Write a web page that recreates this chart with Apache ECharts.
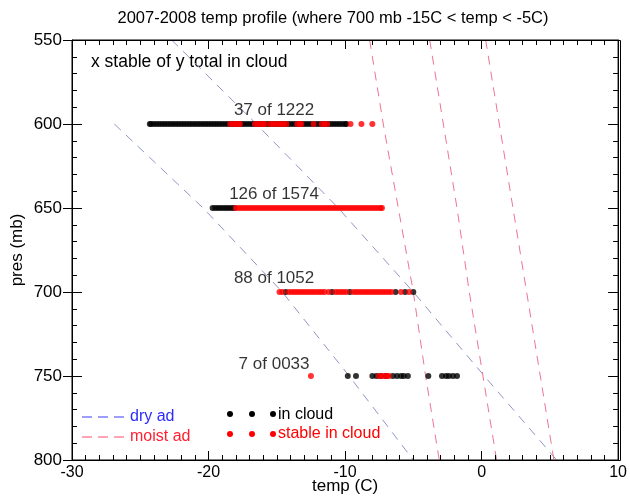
<!DOCTYPE html>
<html><head><meta charset="utf-8">
<script src="https://cdn.jsdelivr.net/npm/echarts@6/dist/echarts.min.js"></script>
<style>html,body{margin:0;padding:0;background:#fff;overflow:hidden}#chart{width:630px;height:502px}</style>
</head><body><div id="chart"></div>
<script>
// ---- data (temp in C, pressure in mb) ----
const levels = [600, 650, 700, 750];
const inCloud600 = [-24.3,-24.2,-24.0,-23.8,-23.6,-23.4,-23.2,-23.0,-22.8,-22.6,-22.4,-22.2,-22.0,-21.8,-21.6,-21.4,-21.2,-21.0,-20.8,-20.6,-20.4,-20.2,-20.0,-19.8,-19.6,-19.4,-19.2,-19.0,-18.8,-18.6,-18.4,-18.2,-18.0,-17.8,-17.6,-17.4,-17.2,-17.0,-16.8,-16.6,-16.4,-16.2,-16.0,-15.8,-15.6,-15.4,-15.2,-15.0,-14.8,-14.6,-14.4,-14.2,-14.0,-13.8,-13.6,-13.4,-13.2,-13.0,-12.8,-12.6,-12.4,-12.2,-12.0,-11.8,-11.6,-11.4,-11.2,-11.0,-10.8,-10.6,-10.4,-10.2,-10.0,-9.9];
const stable600 = [-18.4,-18.2,-18.0,-17.8,-17.7,-16.6,-16.4,-16.2,-16.0,-15.9,-15.5,-15.3,-15.1,-14.9,-14.7,-14.5,-14.3,-13.5,-13.3,-13.2,-12.3,-11.7,-11.5,-11.3,-9.6,-8.8,-8.0];
const inCloud650 = [-19.7,-19.5,-19.3,-19.1,-18.9,-18.7,-18.5,-18.3,-18.1];
const stable650 = [-18.0,-17.8,-17.6,-17.4,-17.2,-17.0,-16.8,-16.6,-16.4,-16.2,-16.0,-15.8,-15.6,-15.4,-15.2,-15.0,-14.8,-14.6,-14.4,-14.2,-14.0,-13.8,-13.6,-13.4,-13.2,-13.0,-12.8,-12.6,-12.4,-12.2,-12.0,-11.8,-11.6,-11.4,-11.2,-11.0,-10.8,-10.6,-10.4,-10.2,-10.0,-9.8,-9.6,-9.4,-9.2,-9.0,-8.8,-8.6,-8.4,-8.2,-8.0,-7.8,-7.6,-7.4,-7.3];
const inCloud700 = [-14.35,-10.95,-9.65,-6.3,-5.6,-5.0];
const stable700 = [-14.8,-14.6,-14.1,-13.9,-13.7,-13.5,-13.3,-13.1,-12.9,-12.7,-12.5,-12.3,-12.1,-11.9,-11.7,-11.5,-11.2,-10.7,-10.5,-10.3,-10.1,-9.9,-9.4,-9.2,-9.0,-8.8,-8.6,-8.4,-8.2,-8.0,-7.8,-7.6,-7.4,-7.2,-7.0,-6.8,-6.6,-5.9,-5.3];
const inCloud750 = [-9.8,-9.2,-8.0,-7.7,-7.4,-7.0,-6.5,-6.2,-5.9,-5.7,-5.4,-3.9,-2.9,-2.6,-2.4,-2.1,-1.8];
const stable750 = [-12.5,-7.5,-7.3,-7.1,-6.9,-6.8];

const countLabels = ['37 of 1222', '126 of 1574', '88 of 1052', '7 of 0033'];
const countLabelTemp = [-15.2, -15.2, -15.2, -15.2];
const countLabelPres = [591.7, 641.7, 691.7, 743.2];

// adiabats: [temp, pres]
const dryAd1 = [[-26.9,600],[-20.4,650],[-14.6,700],[-9.7,750],[-5.0,800]];
const dryAd2 = [[-22.7,550],[-16.5,600],[-10.5,650],[-5.0,700],[0.2,750],[5.5,800]];
const moistAd1 = [[-8.2,550],[-7.2,600],[-6.1,650],[-5.0,700],[-4.1,750],[-3.1,800]];
const moistAd2 = [[-3.8,550],[-2.8,600],[-1.8,650],[-0.9,700],[0.1,750],[1.1,800]];
const moistAd3 = [[0.3,550],[1.3,600],[2.3,650],[3.3,700],[4.3,750],[5.3,800]];

const xTicks = [-30, -20, -10, 0, 10];
const yTicks = [550, 600, 650, 700, 750, 800];

// ---- build ----
const FONT = '"Liberation Sans", Arial, Helvetica, sans-serif';
const inCloudRows = [inCloud600, inCloud650, inCloud700, inCloud750];
const stableRows = [stable600, stable650, stable700, stable750];
const rowPts = (rows) => rows.flatMap((r, i) => r.map(t => [t, levels[i]]));
const DRY = '#8f96c2', MOIST = '#ee7492';

function xAxisDef(extra) {
  return Object.assign({
    type: 'value', min: xTicks[0], max: xTicks[xTicks.length - 1], interval: 10, zlevel: 1, z: 20,
    axisLine: { show: true, onZero: false, lineStyle: { color: '#000', width: 1 } },
    axisTick: { show: true, inside: true, length: 9, lineStyle: { color: '#000', width: 1 } },
    minorTick: { show: true, splitNumber: 10, length: 5, lineStyle: { color: '#000', width: 1 } },
    splitLine: { show: false }, minorSplitLine: { show: false }
  }, extra);
}
function yAxisDef(extra) {
  return Object.assign({
    type: 'value', min: yTicks[0], max: yTicks[yTicks.length - 1], interval: 50, inverse: true, zlevel: 1, z: 20,
    axisLine: { show: true, onZero: false, lineStyle: { color: '#000', width: 1 } },
    axisTick: { show: true, inside: true, length: 10, lineStyle: { color: '#000', width: 1 } },
    minorTick: { show: true, splitNumber: 5, length: 5, lineStyle: { color: '#000', width: 1 } },
    splitLine: { show: false }, minorSplitLine: { show: false }
  }, extra);
}
const lineSeries = (data, color) => ({
  type: 'line', data, showSymbol: false, symbol: 'none', z: 1,
  lineStyle: { color, width: 1, type: [9, 7] }
});

const option = {
  animation: false,
  backgroundColor: '#fff',
  grid: { left: 72, right: 10, top: 40, bottom: 42, show: true, zlevel: 1, z: 20,
          borderColor: '#000', borderWidth: 1, backgroundColor: 'rgba(0,0,0,0)' },
  xAxis: [
    xAxisDef({
      position: 'bottom',
      axisLabel: { fontFamily: FONT, fontSize: 16, color: '#000', margin: 5 },
      name: 'temp (C)', nameLocation: 'middle', nameGap: 18, nameMoveOverlap: false,
      nameTextStyle: { fontFamily: FONT, fontSize: 17, color: '#000' }
    }),
    xAxisDef({ position: 'top', axisLabel: { show: false } })
  ],
  yAxis: [
    yAxisDef({
      position: 'left',
      axisLabel: { fontFamily: FONT, fontSize: 17, color: '#000', margin: 10 },
      name: 'pres (mb)', nameLocation: 'middle', nameGap: 46, nameRotate: 90, nameMoveOverlap: false,
      nameTextStyle: { fontFamily: FONT, fontSize: 17, color: '#000' }
    }),
    yAxisDef({ position: 'right', axisLabel: { show: false } }),
    yAxisDef({
      position: 'left', axisLine: { show: false, onZero: false }, axisLabel: { show: false },
      axisTick: { show: true, inside: false, length: 9, lineStyle: { color: '#000', width: 1 } },
      minorTick: { show: false }
    })
  ],
  series: [
    lineSeries(dryAd1, DRY),
    lineSeries(dryAd2, DRY),
    lineSeries(moistAd1, MOIST),
    lineSeries(moistAd2, MOIST),
    lineSeries(moistAd3, MOIST),
    { type: 'scatter', name: 'in cloud', data: rowPts(inCloudRows), symbolSize: 6, z: 3, itemStyle: { color: '#000' } },
    { type: 'scatter', name: 'stable in cloud', data: rowPts(stableRows), symbolSize: 6, z: 4, itemStyle: { color: '#ff0000' } },
    {
      type: 'scatter', z: 5, symbolSize: 1, itemStyle: { color: 'rgba(0,0,0,0)' },
      data: countLabels.map((s, i) => ({ value: [countLabelTemp[i], countLabelPres[i]], name: s })),
      label: { show: true, position: 'inside', formatter: p => p.name, fontFamily: FONT, fontSize: 17, color: '#000' }
    }
  ],
  graphic: [
    { type: 'rect', zlevel: 1, z: 30, shape: { x: 72.5, y: 40.5, width: 548, height: 420 }, style: { fill: 'none', stroke: '#000', lineWidth: 1 } },
    { type: 'text', x: 333, y: 18, style: { text: '2007-2008 temp profile (where 700 mb -15C < temp < -5C)', font: '16.5px ' + FONT, fill: '#000', textAlign: 'center', textVerticalAlign: 'middle' } },
    { type: 'text', x: 91, y: 62, style: { text: 'x stable of y total in cloud', font: '17.5px ' + FONT, fill: '#000', textVerticalAlign: 'middle' } },
    { type: 'line', shape: { x1: 82, y1: 417, x2: 126, y2: 417 }, style: { stroke: '#3a3aff', lineWidth: 1, lineDash: [10, 6] } },
    { type: 'text', x: 130, y: 417, style: { text: 'dry ad', font: '16px ' + FONT, fill: '#2b2bff', textVerticalAlign: 'middle' } },
    { type: 'line', shape: { x1: 82, y1: 437, x2: 126, y2: 437 }, style: { stroke: '#ff4a6a', lineWidth: 1, lineDash: [10, 6] } },
    { type: 'text', x: 130, y: 437, style: { text: 'moist ad', font: '16px ' + FONT, fill: '#ff2030', textVerticalAlign: 'middle' } },
    { type: 'circle', shape: { cx: 230, cy: 414, r: 3 }, style: { fill: '#000' } },
    { type: 'circle', shape: { cx: 252, cy: 414, r: 3 }, style: { fill: '#000' } },
    { type: 'circle', shape: { cx: 273, cy: 414, r: 3 }, style: { fill: '#000' } },
    { type: 'text', x: 278, y: 415, style: { text: 'in cloud', font: '16px ' + FONT, fill: '#000', textVerticalAlign: 'middle' } },
    { type: 'circle', shape: { cx: 230, cy: 434, r: 3 }, style: { fill: '#ff0000' } },
    { type: 'circle', shape: { cx: 252, cy: 434, r: 3 }, style: { fill: '#ff0000' } },
    { type: 'circle', shape: { cx: 273, cy: 434, r: 3 }, style: { fill: '#ff0000' } },
    { type: 'text', x: 278, y: 434, style: { text: 'stable in cloud', font: '16px ' + FONT, fill: '#ff0000', textVerticalAlign: 'middle' } }
  ]
};

option.series.forEach(s => { s.xAxisIndex = 0; s.yAxisIndex = 0; });

const chart = echarts.init(document.getElementById('chart'));
chart.setOption(option);
</script>
</body></html>
